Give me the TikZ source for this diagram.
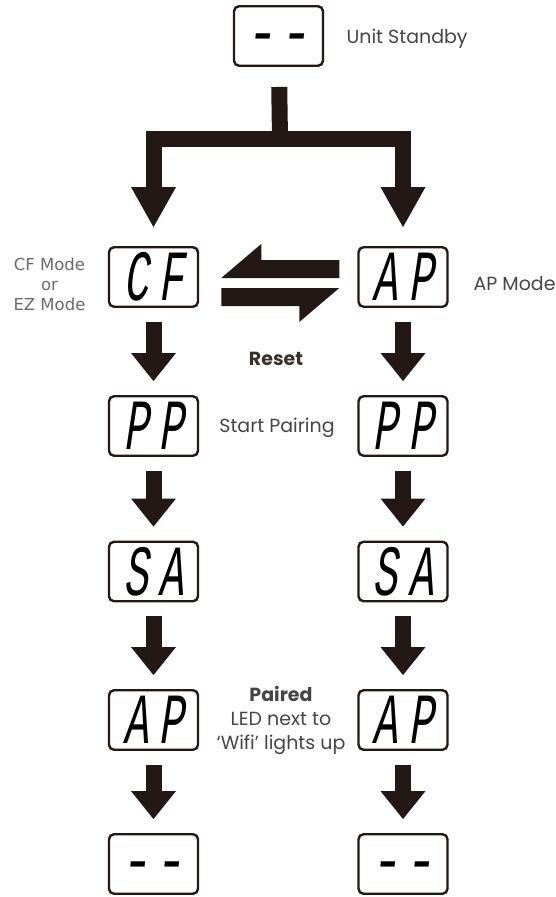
\documentclass[tikz,border=0pt]{standalone}
\usepackage{fontspec}
\setmainfont{Poppins}
\newfontfamily\lcdfont[FakeStretch=0.58,FakeSlant=0.15,LetterSpace=15]{Liberation Mono}
\newfontfamily\dashfont[FakeStretch=0.85,FakeSlant=0.1]{DejaVu Sans Mono}
\newfontfamily\notefont{DejaVu Sans}
\usetikzlibrary{arrows.meta,calc}
\definecolor{ink}{HTML}{231815}
\definecolor{textgray}{HTML}{454545}
\tikzset{
  lcd/.style={draw=ink, line width=2.4pt, rounded corners=5pt, minimum width=89pt, minimum height=59.5pt, inner sep=0pt, font=\lcdfont\fontsize{72pt}{72pt}\selectfont},
  standby/.style={lcd, font=\dashfont\fontsize{66pt}{66pt}\selectfont, text height=36pt, text depth=0pt},
  blockarrow/.style={draw=ink, line width=16pt, -{Triangle[width=45pt,length=28pt,line width=0pt]}, shorten <=14pt, shorten >=14pt},
  infotext/.style={text=textgray, font=\fontsize{19pt}{24pt}\selectfont},
  sidenote/.style={text=textgray!80, font=\notefont\fontsize{16.5pt}{20pt}\selectfont, align=center},
}
\begin{document}
\begin{tikzpicture}[x=1pt,y=-1pt]
\useasboundingbox (0,0) rectangle (555,897);
% displays
\node[standby] (0s) at (278.5,36) {-{}-};
\node[lcd] (1a) at (153.5,277) {CF};
\node[lcd] (2a) at (153.5,426) {PP};
\node[lcd] (3a) at (153.5,571.5) {SA};
\node[lcd] (4a) at (153.5,720) {AP};
\node[standby] (5a) at (153.5,864) {-{}-};
\node[lcd] (1b) at (403,277) {AP};
\node[lcd] (2b) at (403,426) {PP};
\node[lcd] (3b) at (403,571.5) {SA};
\node[lcd] (4b) at (403,720) {AP};
\node[standby] (5b) at (403,864) {-{}-};

% split from standby
\coordinate (split) at (280,139);
\path[draw=ink,line width=16pt,shorten <=20pt] (0s) -- (split);
\path[draw,blockarrow,-{Triangle[width=45pt,length=40pt,line width=0pt]},line join=miter,shorten <=0pt,shorten >=19pt] (split) -| (1a);
\path[draw,blockarrow,-{Triangle[width=45pt,length=40pt,line width=0pt]},line join=miter,shorten <=0pt,shorten >=19pt] (split) -| (1b);

% reset arrows
\coordinate (mid) at ($(1a.east)!0.5!(1b.west)$);
\fill[ink] ($(mid)+(-57,1)$) -- ++(40,-34) -- ++(0,16) -- ++(78,0) -- ++(0,18) -- cycle;
\fill[ink] ($(mid)+(-57,11)$) -- ++(118,0) -- ++(-40,34) -- ++(0,-16) -- ++(-78,0) -- cycle;

% steps
\path[draw,blockarrow] (1a) -- (2a);
\path[draw,blockarrow] (2a) -- (3a);
\path[draw,blockarrow] (3a) -- (4a);
\path[draw,blockarrow] (4a) -- (5a);
\path[draw,blockarrow] (1b) -- (2b);
\path[draw,blockarrow] (2b) -- (3b);
\path[draw,blockarrow] (3b) -- (4b);
\path[draw,blockarrow] (4b) -- (5b);

% labels
\node[infotext,anchor=base west] (t0) at (343,43) {Unit Standby};
\node[sidenote] (t1a) at (49.5,284) {CF Mode\\or\\EZ Mode};
\node[infotext,anchor=base west] (t1b) at (470,290) {AP Mode};
\node[infotext,anchor=base,text=ink!90,font=\fontsize{19pt}{24pt}\selectfont\bfseries] (reset) at (276,365) {Reset};
\node[infotext,anchor=base] (t2) at (277,432) {Start Pairing};
\node[infotext,align=center] (t4) at (281,720) {{\bfseries Paired}\\LED next to\\‘Wifi’ lights up};
\end{tikzpicture}
\end{document}
